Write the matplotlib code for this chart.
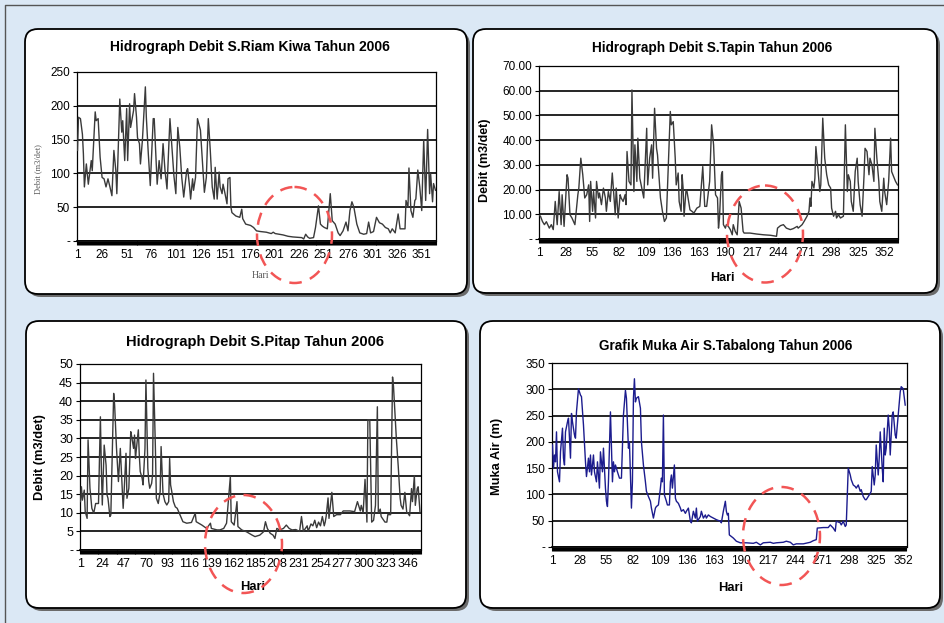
import matplotlib.pyplot as plt
from matplotlib.patches import FancyBboxPatch, Ellipse
import numpy as np

W, H = 945, 623
plt.rcParams['font.family'] = ['Liberation Sans', 'DejaVu Sans']

# S.Riam Kiwa debit (m3/det)
riam_days = [1, 2, 4, 6, 7, 8, 10, 12, 15, 16, 19, 20, 22, 24, 26, 28, 30, 32, 34, 36,
             38, 40, 41, 44, 46, 47, 49, 51, 52, 54, 55, 58, 59, 61, 62, 64, 65, 67, 70, 71,
             73, 75, 78, 79, 82, 84, 86, 88, 90, 92, 95, 97, 99, 101, 103, 105, 107, 109, 112, 113,
             115, 116, 118, 119, 121, 123, 126, 128, 130, 132, 134, 136, 138, 140, 141, 143, 145, 146, 148, 149,
             151, 153, 154, 156, 157, 158, 162, 166, 168, 169, 172, 177, 180, 183, 187, 193, 198, 200, 202, 210,
             215, 220, 229, 231, 233, 235, 237, 241, 243, 246, 248, 250, 252, 255, 258, 260, 263, 266, 268, 271,
             274, 276, 278, 280, 282, 285, 288, 292, 295, 297, 299, 302, 305, 308, 311, 314, 317, 319, 321, 324,
             327, 329, 334, 335, 337, 338, 340, 342, 344, 345, 347, 349, 351, 353, 355, 357, 359, 360, 362, 363, 365]
riam_q = [134, 183, 181, 158, 129, 80, 114, 84, 119, 104, 191, 178, 181, 124, 94, 92, 80, 92, 80, 67,
          134, 104, 70, 210, 161, 178, 119, 196, 119, 203, 168, 193, 218, 183, 153, 144, 114, 149, 228, 183,
          129, 82, 181, 181, 84, 119, 92, 144, 104, 77, 181, 139, 97, 70, 168, 139, 94, 65, 104, 107,
          80, 62, 92, 75, 94, 181, 164, 119, 72, 94, 181, 134, 80, 62, 109, 62, 102, 80, 70, 84,
          70, 55, 92, 94, 50, 42, 37, 35, 47, 33, 25, 23, 20, 15, 14, 13, 11, 13, 11, 9,
          7, 6, 5, 3, 10, 6, 4, 5, 20, 52, 25, 22, 20, 18, 70, 30, 25, 12, 8, 15,
          28, 15, 45, 58, 50, 25, 12, 10, 11, 28, 12, 14, 35, 27, 25, 20, 18, 12, 18, 12,
          40, 18, 18, 60, 50, 108, 45, 35, 60, 62, 105, 80, 45, 150, 60, 165, 70, 100, 58, 85, 75]

# S.Tapin debit (m3/det)
tapin_days = [1, 2, 4, 6, 8, 11, 13, 15, 17, 19, 21, 23, 24, 26, 29, 30, 32, 34, 37, 40,
              41, 43, 45, 47, 49, 51, 52, 53, 55, 56, 58, 59, 61, 62, 64, 66, 68, 69, 71, 73,
              75, 78, 79, 81, 83, 84, 86, 88, 89, 90, 92, 94, 95, 97, 98, 100, 101, 103, 105, 107,
              110, 111, 113, 115, 116, 118, 120, 121, 124, 126, 128, 130, 134, 135, 137, 139, 140, 142, 143, 145,
              146, 147, 148, 150, 151, 154, 156, 158, 161, 164, 167, 169, 171, 174, 176, 178, 180, 182, 183, 184,
              186, 187, 188, 190, 191, 193, 195, 197, 198, 200, 202, 203, 204, 206, 208, 209, 215, 222, 229, 236,
              242, 243, 246, 249, 252, 256, 259, 263, 264, 268, 270, 273, 275, 276, 277, 278, 280, 281, 282, 284,
              286, 287, 289, 291, 293, 295, 297, 298, 300, 302, 303, 305, 307, 310, 312, 314, 315, 317, 318, 320,
              322, 324, 325, 327, 329, 331, 332, 334, 336, 337, 339, 341, 342, 344, 346, 347, 349, 351, 352, 354,
              356, 358, 359, 361, 363, 365]
tapin_q = [9.5, 9.2, 7.1, 5.8, 7.0, 4.4, 5.8, 3.8, 15.2, 5.8, 19.2, 5.8, 17.9, 5.1, 26.0, 24.6, 9.8, 8.5, 5.8, 17.9,
           20.6, 32.7, 26.0, 16.6, 17.9, 21.9, 7.1, 23.3, 11.2, 19.2, 8.5, 23.3, 16.6, 18.6, 13.9, 20.6, 16.6, 11.2, 19.2, 15.2,
           26.7, 9.8, 20.6, 8.5, 17.9, 16.6, 15.2, 17.9, 13.9, 35.4, 23.3, 21.9, 60.3, 19.2, 38.1, 23.3, 40.8, 24.6, 20.6, 16.6,
           44.8, 21.9, 32.7, 38.1, 24.6, 52.9, 36.7, 34.0, 16.6, 11.2, 7.1, 8.5, 51.6, 46.2, 47.5, 32.7, 21.9, 26.7, 15.2, 11.2,
           26.0, 20.6, 9.2, 19.9, 19.2, 11.8, 11.2, 10.5, 12.5, 13.2, 29.3, 13.2, 13.2, 23.3, 46.2, 38.1, 17.9, 16.6, 4.4, 8.5,
           26.0, 27.3, 5.8, 4.4, 5.8, 5.1, 3.8, 1.7, 5.8, 3.1, 1.7, 8.5, 15.2, 12.5, 3.1, 2.4, 2.4, 2.0, 1.7, 1.5,
           1.1, 4.4, 5.4, 5.8, 4.4, 3.8, 4.2, 5.1, 4.4, 5.8, 7.1, 9.2, 11.2, 16.6, 13.2, 23.3, 20.6, 24.6, 37.4, 28.7,
           19.2, 21.9, 48.9, 32.7, 26.0, 21.9, 20.6, 12.5, 9.2, 11.2, 8.5, 9.8, 8.5, 9.2, 46.2, 19.2, 26.0, 23.3, 15.2, 11.2,
           27.3, 32.7, 23.3, 13.9, 9.2, 26.0, 36.7, 35.4, 26.0, 32.7, 30.0, 23.3, 44.8, 32.7, 23.3, 15.2, 11.2, 24.6, 19.0, 13.9,
           23.3, 40.8, 27.3, 25.3, 23.3, 21.9]

# S.Pitap debit (m3/det)
pitap_days = [1, 2, 3, 5, 6, 8, 9, 11, 13, 15, 17, 20, 22, 23, 24, 26, 28, 29, 30, 32,
              33, 36, 37, 39, 41, 43, 44, 46, 47, 49, 50, 52, 54, 55, 57, 58, 59, 60, 62, 63,
              64, 66, 67, 69, 70, 72, 73, 74, 76, 77, 78, 80, 81, 83, 85, 86, 88, 90, 92, 94,
              95, 96, 97, 99, 101, 103, 106, 109, 113, 118, 122, 123, 129, 134, 138, 139, 145, 148, 152, 155,
              159, 160, 163, 166, 167, 171, 176, 182, 185, 190, 194, 196, 198, 201, 204, 206, 208, 211, 215, 218,
              221, 224, 228, 232, 234, 236, 240, 241, 244, 246, 248, 250, 252, 254, 256, 258, 259, 260, 262, 263,
              266, 268, 271, 275, 278, 285, 290, 293, 296, 297, 299, 301, 303, 304, 306, 308, 310, 312, 314, 315,
              317, 318, 322, 324, 325, 328, 330, 331, 334, 336, 338, 339, 341, 343, 345, 346, 348, 350, 351, 353,
              354, 356, 357, 359]
pitap_q = [13.0, 17.0, 13.4, 16.1, 10.3, 8.5, 29.6, 16.6, 11.2, 9.9, 12.5, 12.5, 35.8, 22.0, 12.1, 28.2, 22.8, 14.8, 13.9, 9.0,
           9.4, 42.1, 39.0, 27.3, 18.4, 27.3, 22.0, 11.2, 15.7, 26.0, 13.9, 16.6, 31.8, 30.5, 27.3, 30.9, 24.6, 27.3, 32.3, 25.5,
           21.1, 19.3, 17.5, 27.3, 45.7, 22.0, 18.4, 16.6, 17.9, 20.2, 47.5, 27.3, 13.9, 12.5, 15.7, 27.8, 15.2, 13.0, 12.1, 13.0,
           24.6, 17.5, 16.1, 13.0, 11.6, 11.2, 9.4, 7.6, 7.2, 7.4, 9.9, 7.6, 6.7, 5.8, 7.2, 5.8, 5.4, 5.4, 5.8, 7.2,
           19.7, 7.6, 6.7, 13.0, 6.3, 5.4, 4.9, 4.0, 3.6, 4.0, 4.9, 7.6, 5.8, 4.5, 4.0, 3.1, 5.8, 5.4, 5.8, 6.7,
           5.8, 5.4, 5.5, 5.0, 9.0, 5.0, 6.5, 5.0, 7.0, 6.5, 8.0, 6.0, 7.5, 6.5, 9.0, 6.5, 7.5, 9.0, 14.0, 8.5,
           15.5, 9.0, 9.5, 9.5, 10.5, 10.5, 10.3, 13.0, 10.5, 12.0, 10.0, 19.0, 7.5, 35.0, 35.0, 7.5, 8.0, 12.0, 38.5, 10.0,
           11.0, 9.0, 7.5, 7.5, 9.5, 9.5, 46.5, 44.0, 30.0, 22.5, 14.0, 12.0, 11.0, 15.5, 10.0, 10.0, 9.2, 16.5, 13.0, 20.0,
           12.0, 16.5, 17.0, 10.0]

# S.Tabalong muka air (m)
tabalong_days = [1, 2, 3, 4, 5, 6, 8, 9, 11, 12, 13, 14, 16, 17, 19, 20, 21, 23, 24, 25,
                 27, 29, 30, 32, 34, 35, 37, 38, 39, 40, 42, 43, 45, 46, 48, 49, 51, 52, 53, 54,
                 55, 56, 57, 59, 60, 61, 62, 63, 64, 66, 68, 70, 72, 74, 75, 77, 78, 80, 81, 82,
                 83, 84, 85, 87, 89, 90, 92, 94, 95, 97, 99, 100, 102, 104, 105, 107, 109, 110, 111, 112,
                 113, 115, 116, 118, 119, 120, 121, 123, 124, 125, 127, 129, 130, 132, 134, 135, 137, 139, 140, 142,
                 144, 145, 146, 149, 150, 152, 154, 155, 157, 159, 162, 165, 169, 170, 172, 174, 175, 176, 177, 178,
                 180, 182, 185, 189, 195, 202, 205, 209, 212, 219, 222, 225, 232, 235, 239, 242, 245, 252, 259, 262,
                 265, 266, 272, 277, 279, 282, 284, 285, 289, 290, 292, 294, 295, 297, 299, 300, 302, 304, 305, 307,
                 309, 310, 312, 314, 315, 317, 319, 320, 321, 323, 324, 325, 327, 328, 329, 331, 332, 333, 334, 335,
                 337, 338, 339, 341, 342, 344, 345, 347, 349, 350, 352, 354]
tabalong_h = [194, 150, 175, 162, 219, 143, 124, 181, 226, 169, 156, 219, 238, 245, 169, 254, 238, 213, 207, 257,
              301, 289, 286, 232, 162, 134, 169, 143, 175, 137, 175, 143, 124, 162, 112, 181, 143, 188, 150, 112,
              87, 77, 124, 257, 188, 124, 162, 143, 156, 143, 131, 131, 251, 298, 283, 188, 200, 74, 124, 283,
              320, 276, 283, 286, 264, 200, 156, 124, 106, 96, 87, 74, 55, 74, 77, 80, 112, 131, 124, 251,
              99, 87, 80, 80, 124, 137, 112, 156, 93, 87, 83, 74, 68, 71, 64, 68, 74, 49, 46, 68,
              55, 74, 49, 58, 68, 55, 61, 55, 61, 58, 55, 52, 49, 46, 68, 87, 68, 61, 64, 23,
              20, 17, 11, 8, 8, 7, 9, 4, 8, 9, 7, 8, 9, 11, 9, 4, 6, 6, 9, 12,
              14, 36, 37, 37, 42, 36, 30, 49, 46, 42, 49, 39, 42, 150, 137, 128, 118, 115, 112, 118,
              106, 109, 96, 90, 90, 96, 102, 106, 153, 118, 137, 194, 137, 169, 219, 150, 124, 226, 175, 188,
              251, 226, 175, 251, 257, 213, 207, 251, 295, 305, 301, 270]


def px_axes(fig, left, top, right, bottom):
    return fig.add_axes([left / W, 1 - bottom / H, (right - left) / W, (bottom - top) / H])


def hydro(ax, days, vals, color, ymax, ystep, yfmt, xmax, xstep, xsize=8.5, ysize=8.5, yfamily=None):
    ax.plot(days, vals, color=color, lw=1.0, zorder=3)
    ax.set_xlim(0.5, xmax)
    ax.set_ylim(0, ymax)
    yt = np.arange(0, ymax + ystep / 2, ystep)
    ax.set_yticks(yt)
    ax.set_yticklabels(['-'] + [yfmt.format(v) for v in yt[1:]])
    if yfamily:
        for lab in ax.get_yticklabels():
            lab.set_family(yfamily)
    ax.yaxis.grid(True, color='black', lw=1.2)
    ax.set_axisbelow(True)
    xt = np.arange(1, xmax, xstep)
    ax.set_xticks(xt)
    ax.set_xticklabels([str(int(v)) for v in xt])
    ax.set_xticks(np.arange(1, int(xmax) + 1), minor=True)
    ax.tick_params(axis='x', which='both', length=3, width=0.8, direction='out',
                   labelsize=xsize, pad=3, colors='black')
    ax.tick_params(axis='y', length=3, width=0.8, labelsize=ysize, pad=2)
    for s in ax.spines.values():
        s.set_color('black')
        s.set_linewidth(0.9)
    ax.spines['bottom'].set_linewidth(1.2)
    ax.set_zorder(2)


fig = plt.figure(figsize=(W / 100, H / 100), dpi=100)

# page background with the four rounded panels
bg = fig.add_axes([0, 0, 1, 1])
bg.set_xlim(0, W)
bg.set_ylim(H, 0)
bg.axis('off')
bg.add_patch(plt.Rectangle((0, 0), W, H, color='#dbe8f5', zorder=0))
bg.plot([5, 5, W], [H, 5, 5], color='#555555', lw=1, zorder=1)
boxes = [(25, 29, 467, 294), (473, 29, 937, 293), (26, 321, 466, 608), (480, 321, 940, 608)]
for l, t, r, b in boxes:
    bg.add_patch(FancyBboxPatch((l + 3, t + 3), r - l, b - t, boxstyle='round,pad=0,rounding_size=13',
                                fc='#6b6b6b', ec='none', zorder=1))
    bg.add_patch(FancyBboxPatch((l, t), r - l, b - t, boxstyle='round,pad=0,rounding_size=13',
                                fc='white', ec='black', lw=1.3, zorder=2))

narrow = ['Liberation Sans Narrow', 'Liberation Sans']
ax1 = px_axes(fig, 77, 72, 436, 241)
hydro(ax1, riam_days, riam_q, '#3a3a3a', 250, 50, '{:.0f}', 365.5, 25)
ax2 = px_axes(fig, 539, 66, 898, 239)
hydro(ax2, tapin_days, tapin_q, '#3a3a3a', 70, 10, '{:.2f}', 365.5, 27, yfamily=narrow)
ax3 = px_axes(fig, 80, 364, 421, 550)
hydro(ax3, pitap_days, pitap_q, '#3a3a3a', 50, 5, '{:.0f}', 360, 23, xsize=9, ysize=9)
ax4 = px_axes(fig, 552, 363, 907, 547)
hydro(ax4, tabalong_days, tabalong_h, '#1c1c8e', 350, 50, '{:.0f}', 355.8, 27)

tkw = dict(ha='center', va='center', fontweight='bold', zorder=3)
bg.text(250, 47, 'Hidrograph Debit S.Riam Kiwa Tahun 2006', fontsize=10, **tkw)
bg.text(712, 48, 'Hidrograph Debit S.Tapin Tahun 2006', fontsize=9.8, **tkw)
bg.text(255, 342, 'Hidrograph Debit S.Pitap Tahun 2006', fontsize=10.6, **tkw)
bg.text(726, 346, 'Grafik Muka Air S.Tabalong Tahun 2006', fontsize=9.8, **tkw)

serif = dict(family='Liberation Serif', color='#555555', ha='center', va='center', zorder=3)
bg.text(38, 169, 'Debit (m3/det)', rotation=90, fontsize=6, **serif)
bg.text(260, 275, 'Hari', fontsize=7, **serif)
lkw = dict(fontweight='bold', ha='center', va='center', zorder=3)
bg.text(485, 160, 'Debit (m3/det)', rotation=90, fontsize=9, **lkw)
bg.text(722, 278, 'Hari', fontsize=9, **lkw)
bg.text(40, 457, 'Debit (m3/det)', rotation=90, fontsize=9.3, **lkw)
bg.text(253, 587, 'Hari', fontsize=9.3, **lkw)
bg.text(497, 456, 'Muka Air (m)', rotation=90, fontsize=9.3, **lkw)
bg.text(731, 588, 'Hari', fontsize=9.3, **lkw)

# red dashed circles marking the dry season
ov = fig.add_axes([0, 0, 1, 1])
ov.set_xlim(0, W)
ov.set_ylim(H, 0)
ov.axis('off')
ov.set_zorder(5)
ov.patch.set_alpha(0)
for cx, cy, w, h in [(294.5, 235, 75, 96), (765, 234, 76, 97), (243.5, 544, 77, 98), (781.5, 536, 77, 98)]:
    ov.add_patch(Ellipse((cx, cy), w, h, fill=False, ec='#f25555', lw=1.8, ls=(0, (5, 3.5))))

fig.savefig('out.png', dpi=100)
